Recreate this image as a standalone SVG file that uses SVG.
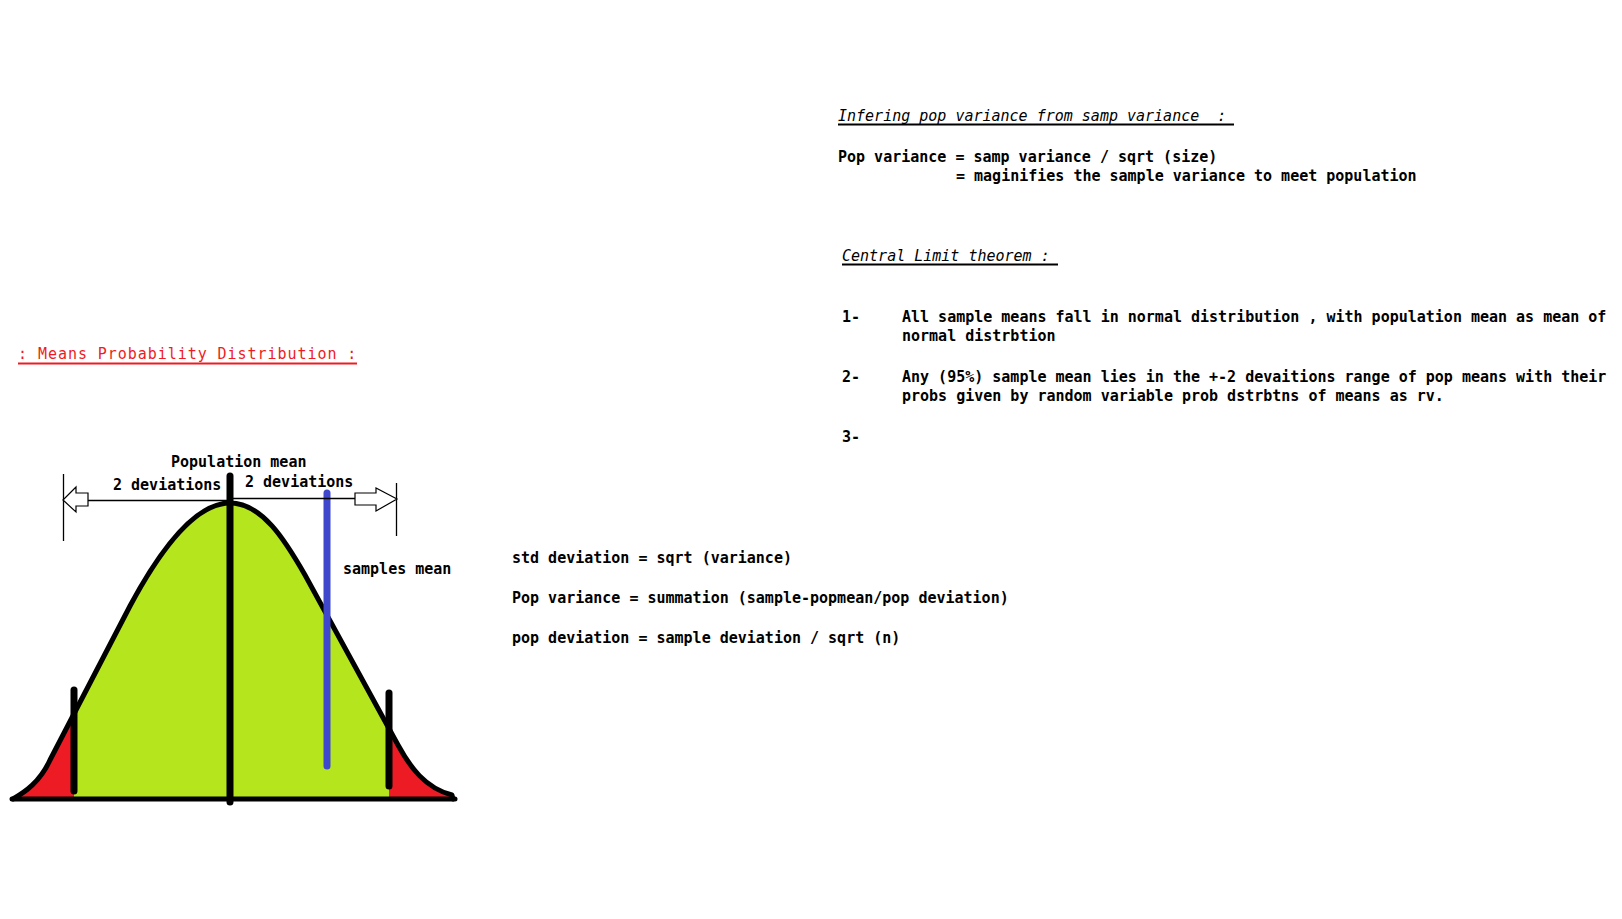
<svg xmlns="http://www.w3.org/2000/svg" width="1622" height="919" viewBox="0 0 1622 919">
<defs>
<style>
.t{font-family:"DejaVu Sans Mono","Liberation Mono",monospace;font-size:15px;font-weight:bold;fill:#000}
.h{font-family:"DejaVu Sans Mono","Liberation Mono",monospace;font-size:15px;font-style:italic;fill:#000;white-space:pre}
.r{font-family:"DejaVu Sans Mono","Liberation Mono",monospace;font-size:15px;fill:#ed1c24;letter-spacing:0.95px}
.thin{stroke:#000;stroke-width:1.3;fill:none}
.arr{fill:#fff;stroke:#000;stroke-width:1.2;stroke-linejoin:miter}
.thick{stroke:#000;stroke-width:7;stroke-linecap:round}
</style>
<path id="bell" d="M13,799 C25,792 40,782 50,760 L130,606 C160,550 195,503 230,503 C262,503 285,540 305,575 L398,745 C410,767 425,788 452,795 L453,799"/>
<clipPath id="mid"><rect x="74" y="400" width="315" height="420"/></clipPath>
</defs>
<rect width="1622" height="919" fill="#fff"/>

<g id="chart">
<use href="#bell" fill="#ed1c24"/>
<use href="#bell" fill="#b5e61d" clip-path="url(#mid)"/>
<use href="#bell" fill="none" stroke="#000" stroke-width="5" stroke-linejoin="round" stroke-linecap="round"/>
<line x1="12" y1="799" x2="455" y2="799" stroke="#000" stroke-width="5" stroke-linecap="round"/>
<line class="thick" x1="74" y1="690" x2="74" y2="791"/>
<line class="thick" x1="389" y1="693" x2="389" y2="786"/>
<line class="thick" x1="230" y1="476" x2="230" y2="802"/>
<line x1="327" y1="493" x2="327" y2="766" stroke="#3f48cc" stroke-width="7" stroke-linecap="round"/>
</g>

<g id="connectors">
<line class="thin" x1="63.5" y1="474" x2="63.5" y2="541"/>
<line class="thin" x1="396.5" y1="483" x2="396.5" y2="536"/>
<line class="thin" x1="88" y1="500.5" x2="228" y2="500.5"/>
<line class="thin" x1="233" y1="498.5" x2="355" y2="498.5"/>
<polygon class="arr" points="63,500 76,487 76,493 88,493 88,506 76,506 76,512"/>
<polygon class="arr" points="355,493 376,493 376,488 397,499 376,511 376,505 355,505"/>
</g>

<g id="chart-labels">
<text class="t" x="171" y="467">Population mean</text>
<text class="t" x="113" y="490">2 deviations</text>
<text class="t" x="245" y="487">2 deviations</text>
<text class="t" x="343" y="574">samples mean</text>
</g>

<g id="title">
<text class="r" x="18" y="359">: Means Probability Distribution :</text>
<line x1="18" y1="363.5" x2="357" y2="363.5" stroke="#ed1c24" stroke-width="2"/>
</g>

<g id="infer">
<text class="h" x="838" y="121" xml:space="preserve">Infering pop variance from samp variance  :</text>
<line x1="838" y1="124.5" x2="1234" y2="124.5" stroke="#000" stroke-width="2"/>
<text class="t" x="838" y="162">Pop variance = samp variance / sqrt (size)</text>
<text class="t" x="956" y="181">= maginifies the sample variance to meet population</text>
</g>

<g id="clt">
<text class="h" x="842" y="261">Central Limit theorem :</text>
<line x1="842" y1="264.5" x2="1058" y2="264.5" stroke="#000" stroke-width="2"/>
<text class="t" x="842" y="322">1-</text>
<text class="t" x="902" y="322">All sample means fall in normal distribution , with population mean as mean of</text>
<text class="t" x="902" y="341">normal distrbtion</text>
<text class="t" x="842" y="382">2-</text>
<text class="t" x="902" y="382">Any (95%) sample mean lies in the +-2 devaitions range of pop means with their</text>
<text class="t" x="902" y="401">probs given by random variable prob dstrbtns of means as rv.</text>
<text class="t" x="842" y="442">3-</text>
</g>

<g id="formulas">
<text class="t" x="512" y="563">std deviation = sqrt (variance)</text>
<text class="t" x="512" y="603">Pop variance = summation (sample-popmean/pop deviation)</text>
<text class="t" x="512" y="643">pop deviation = sample deviation / sqrt (n)</text>
</g>
</svg>
